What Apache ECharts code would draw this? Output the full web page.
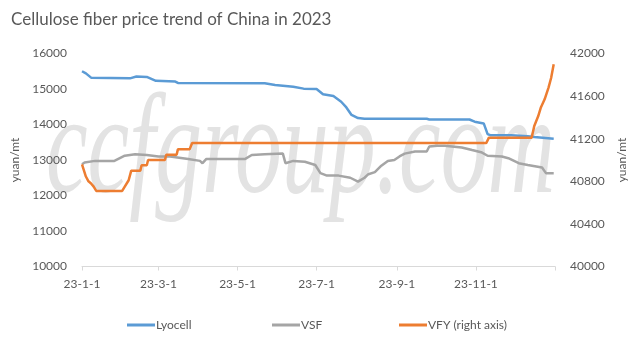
<!DOCTYPE html>
<html>
<head>
<meta charset="utf-8">
<script src="https://cdn.jsdelivr.net/npm/echarts@6/dist/echarts.min.js"></script>
<style>
  html, body { margin: 0; padding: 0; background: #fff; }
  #chart { width: 643px; height: 341px; }
</style>
</head>
<body>
<div id="chart"></div>
<script>
// Daily price points (date, yuan/mt); only the days where the price moves are listed.
const lyocell = [
  ['2023-01-01', 15500], ['2023-01-04', 15440], ['2023-01-08', 15320], ['2023-02-07', 15300],
  ['2023-02-12', 15350], ['2023-02-20', 15340], ['2023-02-27', 15230], ['2023-03-14', 15210],
  ['2023-03-16', 15170], ['2023-05-22', 15160], ['2023-05-30', 15115], ['2023-06-13', 15066],
  ['2023-06-21', 15010], ['2023-07-01', 15000], ['2023-07-06', 14850], ['2023-07-14', 14800],
  ['2023-07-20', 14640], ['2023-07-24', 14480], ['2023-07-28', 14270], ['2023-08-02', 14180],
  ['2023-08-07', 14160], ['2023-09-24', 14160], ['2023-09-26', 14140], ['2023-10-27', 14140],
  ['2023-10-31', 14080], ['2023-11-07', 14030], ['2023-11-10', 13730], ['2023-11-12', 13700],
  ['2023-11-28', 13700], ['2023-12-11', 13670], ['2023-12-16', 13650], ['2023-12-31', 13600]
];
const vsf = [
  ['2023-01-01', 12880], ['2023-01-03', 12930], ['2023-01-11', 12975], ['2023-01-26', 12975],
  ['2023-02-03', 13120], ['2023-02-11', 13160], ['2023-02-20', 13140], ['2023-03-01', 13100],
  ['2023-03-10', 13100], ['2023-03-24', 13030], ['2023-04-02', 12975], ['2023-04-04', 12910],
  ['2023-04-07', 13030], ['2023-05-07', 13030], ['2023-05-12', 13140], ['2023-05-22', 13160],
  ['2023-06-05', 13180], ['2023-06-07', 12910], ['2023-06-13', 12975], ['2023-06-22', 12950],
  ['2023-06-30', 12860], ['2023-07-04', 12630], ['2023-07-09', 12560], ['2023-07-18', 12560],
  ['2023-07-27', 12500], ['2023-08-02', 12390], ['2023-08-07', 12500], ['2023-08-10', 12600],
  ['2023-08-15', 12660], ['2023-08-20', 12840], ['2023-08-25', 12975], ['2023-08-30', 13000],
  ['2023-09-03', 13100], ['2023-09-07', 13180], ['2023-09-15', 13240], ['2023-09-24', 13240],
  ['2023-09-26', 13380], ['2023-10-02', 13400], ['2023-10-08', 13400], ['2023-10-21', 13350],
  ['2023-10-29', 13280], ['2023-11-05', 13220], ['2023-11-10', 13120], ['2023-11-21', 13100],
  ['2023-11-26', 13050], ['2023-12-04', 12910], ['2023-12-11', 12860], ['2023-12-22', 12790],
  ['2023-12-25', 12630], ['2023-12-31', 12630]
];
const vfy = [
  ['2023-01-01', 40960], ['2023-01-04', 40845], ['2023-01-06', 40800], ['2023-01-08', 40780],
  ['2023-01-10', 40750], ['2023-01-12', 40710], ['2023-02-01', 40710], ['2023-02-03', 40750],
  ['2023-02-06', 40810], ['2023-02-08', 40900], ['2023-02-15', 40900], ['2023-02-16', 40950],
  ['2023-02-20', 40950], ['2023-02-21', 41000], ['2023-03-06', 41000], ['2023-03-07', 41050],
  ['2023-03-15', 41050], ['2023-03-16', 41100], ['2023-03-25', 41100], ['2023-03-27', 41160],
  ['2023-11-09', 41160], ['2023-11-11', 41210], ['2023-12-14', 41210], ['2023-12-16', 41320],
  ['2023-12-19', 41410], ['2023-12-21', 41490], ['2023-12-24', 41570], ['2023-12-27', 41680],
  ['2023-12-29', 41770], ['2023-12-31', 41900]
];

// Bimonthly axis labels
const tickDates = ['2023-01-01', '2023-03-01', '2023-05-01', '2023-07-01', '2023-09-01', '2023-11-01'];
const tickLabels = ['23-1-1', '23-3-1', '23-5-1', '23-7-1', '23-9-1', '23-11-1'];

const seriesNames = ['Lyocell', 'VSF', 'VFY (right axis)'];
const seriesColors = ['#5B9BD5', '#A5A5A5', '#ED7D31'];

const leftTicks = { min: 10000, max: 16000, step: 1000 };
const rightTicks = { min: 40000, max: 42000, step: 400 };

// Day-of-year for a date string
function dayOf(s) {
  const [y, m, d] = s.split('-').map(Number);
  return (Date.UTC(y, m - 1, d) - Date.UTC(2023, 0, 1)) / 86400000;
}
const toXY = arr => arr.map(([d, v]) => [dayOf(d), v]);

const tickDays = tickDates.map(dayOf);
const labelByDay = {};
tickDays.forEach((d, i) => { labelByDay[d] = tickLabels[i]; });

const FONT = 'Lato, "Open Sans", sans-serif';
const TEXT = '#595959';

// One legend entry per component so each can sit at its own spot
const legendLeft = [127, 272, 399];
const legends = seriesNames.map((name, i) => ({
  data: [name],
  left: legendLeft[i],
  bottom: 10,
  padding: 0,
  itemWidth: 28,
  itemHeight: 3,
  icon: 'rect',
  textStyle: { fontFamily: FONT, fontSize: 12, color: TEXT, padding: [0, 0, 0, -4] }
}));

const chart = echarts.init(document.getElementById('chart'), null, { renderer: 'canvas' });
chart.setOption({
  animation: false,
  backgroundColor: '#fff',
  textStyle: { fontFamily: FONT },
  title: {
    text: 'Cellulose fiber price trend of China in 2023',
    left: 6, top: 6,
    textStyle: { fontFamily: FONT, fontSize: 17, fontWeight: 'normal', color: TEXT }
  },
  graphic: [{
    type: 'text',
    z: -10,
    silent: true,
    x: 46, y: 226,
    scaleX: 0.66,
    style: {
      text: 'ccfgroup.com',
      font: 'italic 142px "Liberation Serif", serif',
      fill: '#e3e3e3',
      textAlign: 'left',
      textVerticalAlign: 'bottom'
    }
  }],
  grid: { left: 82, right: 88, top: 53.5, bottom: 74.5, containLabel: false },
  legend: legends,
  xAxis: {
    type: 'value',
    min: 0, max: 365,
    splitLine: { show: false },
    axisLine: { show: true, lineStyle: { color: '#d9d9d9', width: 1 } },
    axisTick: { show: true, length: 4, customValues: tickDays.concat([365]), lineStyle: { color: '#d9d9d9' } },
    axisLabel: {
      customValues: tickDays,
      formatter: v => labelByDay[v] || '',
      color: TEXT, fontSize: 12, fontFamily: FONT, margin: 12
    }
  },
  yAxis: [{
    type: 'value',
    min: leftTicks.min, max: leftTicks.max, interval: leftTicks.step,
    name: 'yuan/mt',
    nameLocation: 'middle',
    nameGap: 43,
    nameTextStyle: { color: TEXT, fontSize: 12, fontFamily: FONT },
    splitLine: { show: false },
    axisLine: { show: false },
    axisTick: { show: false },
    axisLabel: { color: TEXT, fontSize: 12, fontFamily: FONT, margin: 15, formatter: v => String(v) }
  }, {
    type: 'value',
    min: rightTicks.min, max: rightTicks.max, interval: rightTicks.step,
    name: 'yuan/mt',
    nameLocation: 'middle',
    nameGap: 53,
    nameTextStyle: { color: TEXT, fontSize: 12, fontFamily: FONT },
    splitLine: { show: false },
    axisLine: { show: false },
    axisTick: { show: false },
    axisLabel: { color: TEXT, fontSize: 12, fontFamily: FONT, margin: 15, formatter: v => String(v) }
  }],
  series: [lyocell, vsf, vfy].map((arr, i) => ({
    name: seriesNames[i], type: 'line', yAxisIndex: i === 2 ? 1 : 0,
    data: toXY(arr), showSymbol: false, symbol: 'none',
    lineStyle: { color: seriesColors[i], width: 2.5 }, itemStyle: { color: seriesColors[i] }
  }))
});
</script>
</body>
</html>
